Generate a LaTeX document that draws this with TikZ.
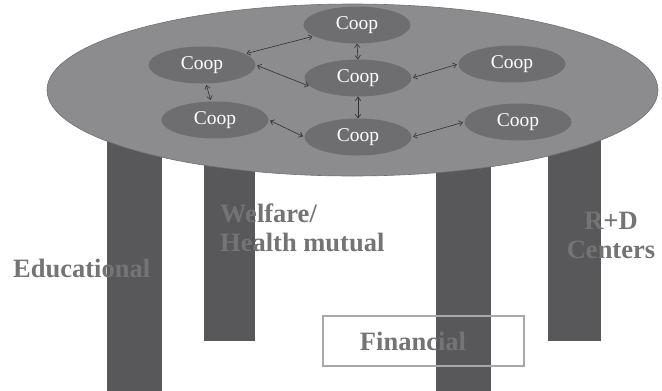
\documentclass[tikz,border=0pt]{standalone}
\usepackage{fontspec}
\setmainfont{Liberation Serif}
\usetikzlibrary{shapes.geometric,arrows.meta}
\definecolor{legc}{HTML}{58585A}
\definecolor{tablec}{HTML}{8C8C8E}
\definecolor{tableline}{HTML}{707072}
\definecolor{coopc}{HTML}{6E6E70}
\definecolor{labc}{HTML}{747474}
\definecolor{boxc}{HTML}{A8A8A8}
\definecolor{arrc}{HTML}{303030}
\tikzset{
  leg/.style={draw=none,fill=legc,rectangle,inner sep=0pt},
  tabletop/.style={ellipse,fill=tablec,draw=tableline,line width=0.6pt,inner sep=0pt,minimum width=611pt,minimum height=172pt},
  coop/.style={ellipse,fill=coopc,draw=none,inner sep=0pt,minimum width=107pt,minimum height=37pt,text=white,font=\fontsize{19.5}{21}\selectfont},
  link/.style={arrc,line width=0.6pt,{Straight Barb[length=3.5pt,width=5.5pt]}-{Straight Barb[length=3.5pt,width=5.5pt]},shorten <=1.5pt,shorten >=1.5pt},
  vlink/.style={link,shorten <=0pt,shorten >=0pt},
  lab/.style={text=labc,font=\fontsize{26.5}{29}\selectfont\bfseries,inner sep=0pt},
  finbox/.style={draw=boxc,line width=2pt,rectangle,inner sep=0pt,minimum width=201pt,minimum height=50pt}
}
\begin{document}
\begin{tikzpicture}[x=1pt,y=-1pt]
\useasboundingbox (0,0) rectangle (662,391);
% legs
\node[leg,minimum width=55pt,minimum height=271pt] (leg1) at (134.5,255.5) {};
\node[leg,minimum width=51pt,minimum height=221pt] (leg2) at (229.5,230.5) {};
\node[leg,minimum width=55pt,minimum height=271pt] (leg3) at (463.5,255.5) {};
\node[leg,minimum width=53pt,minimum height=221pt] (leg4) at (574.5,230.5) {};
% table top
\node[tabletop] (table) at (352.5,90) {};
% coops
\node[coop] (top) at (357,25) {Coop};
\node[coop] (lu) at (202,65) {Coop};
\node[coop] (c) at (358,78) {Coop};
\node[coop] (ru) at (512,64) {Coop};
\node[coop] (ll) at (215,120) {Coop};
\node[coop] (b) at (358,137) {Coop};
\node[coop] (rl) at (518,122) {Coop};
% links
\draw[link] (lu) -- (top);
\draw[vlink] (top.south) -- (c.north);
\draw[link] (lu.east) -- (c.190);
\draw[link] (c.east) -- (ru.west);
\draw[link] (lu.-78) -- (ll.102);
\draw[vlink] (c.south) -- (b.north);
\draw[link] (ll.east) -- (b.west);
\draw[link] (b.east) -- (rl.west);
% labels
\node[lab,anchor=west] (edu) at (13,268) {Educational};
\node[lab,anchor=north west,align=left] (wel) at (220,204) {Welfare/\\Health mutual};
\node[lab,anchor=north,align=center] (rd) at (611,212) {R+D\\Centers};
\node[finbox] (fin) at (423.5,341) {};
\node[lab] (finl) at (413,341) {Financial};
\end{tikzpicture}
\end{document}
